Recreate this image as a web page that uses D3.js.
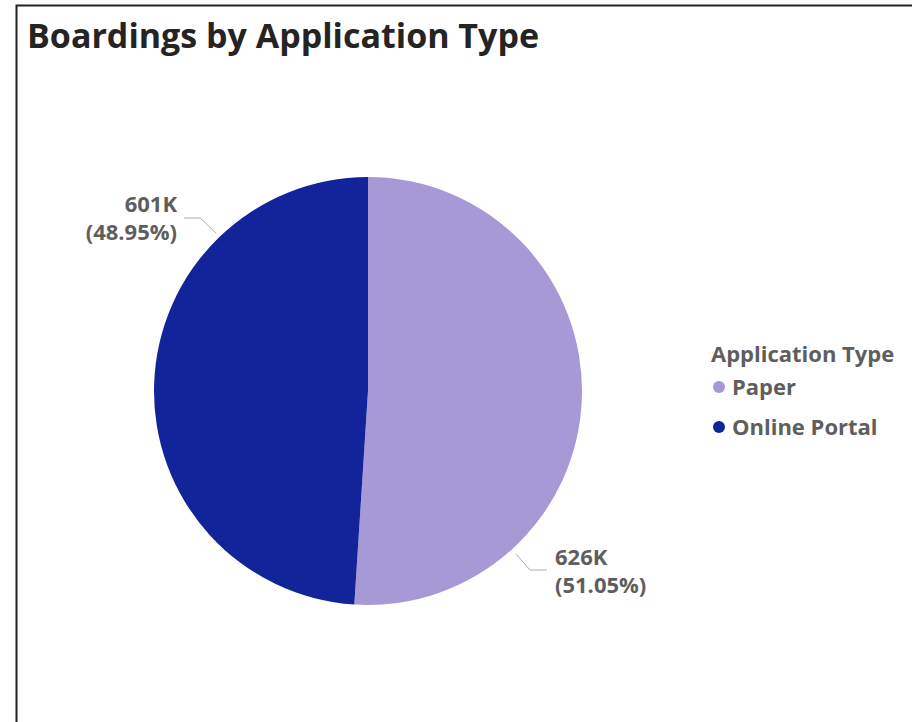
<!DOCTYPE html>
<html>
<head>
<meta charset="utf-8">
<script src="https://cdn.jsdelivr.net/npm/d3@7"></script>
<style>
  body { margin: 0; background: #fff; }
  svg text { font-family: "Open Sans", "Noto Sans", sans-serif; font-weight: 700; }
</style>
</head>
<body>
<svg id="chart" width="912" height="722"></svg>
<script>
const categories = ["Paper", "Online Portal"];
const values = [626, 601];
const valueLabels = ["626K", "601K"];
const pctLabels = ["(51.05%)", "(48.95%)"];
const colors = ["#A699D6", "#13239A"];

const svg = d3.select("#chart");
const center = { x: 368, y: 391 };
const radius = 214;

// frame
svg.append("path")
  .attr("d", "M16.5,722 L16.5,5.5 L912,5.5")
  .attr("fill", "none")
  .attr("stroke", "#222")
  .attr("stroke-width", 2);

svg.append("text")
  .attr("x", 27)
  .attr("y", 48)
  .attr("fill", "#252423")
  .style("font-size", "34px")
  .text("Boardings by Application Type");

const pie = d3.pie().sort(null).value(d => d);
const arcs = pie(values);
const arc = d3.arc().innerRadius(0).outerRadius(radius);

const g = svg.append("g").attr("transform", `translate(${center.x},${center.y})`);

g.selectAll("path.slice")
  .data(arcs)
  .join("path")
  .attr("class", "slice")
  .attr("d", arc)
  .attr("fill", (d, i) => colors[i]);

// leader lines + labels
const labelPos = [
  { pts: [[516, 554], [530, 570], [547, 570]], x: 555, y: 565, anchor: "start" },
  { pts: [[216, 233], [200, 218], [184, 218]], x: 177, y: 212, anchor: "end" }
];

labelPos.forEach((p, i) => {
  svg.append("path")
    .attr("d", d3.line()(p.pts))
    .attr("fill", "none")
    .attr("stroke", "#B3B0AD")
    .attr("stroke-width", 1);
  const t = svg.append("text")
    .attr("text-anchor", p.anchor)
    .attr("fill", "#605E5C")
    .style("font-size", "22px");
  t.append("tspan").attr("x", p.x).attr("y", p.y).text(valueLabels[i]);
  t.append("tspan").attr("x", p.x).attr("y", p.y + 28).text(pctLabels[i]);
});

// legend
const legend = svg.append("g").attr("transform", "translate(711,0)");
legend.append("text")
  .attr("x", 0)
  .attr("y", 362)
  .attr("fill", "#605E5C")
  .style("font-size", "22px")
  .text("Application Type");

const items = legend.selectAll("g.item")
  .data(categories)
  .join("g")
  .attr("class", "item")
  .attr("transform", (d, i) => `translate(0,${387 + i * 40})`);

items.append("circle")
  .attr("cx", 8)
  .attr("cy", 0)
  .attr("r", 6)
  .attr("fill", (d, i) => colors[i]);

items.append("text")
  .attr("x", 21)
  .attr("y", 8)
  .attr("fill", "#605E5C")
  .style("font-size", "22px")
  .text(d => d);
</script>
</body>
</html>
